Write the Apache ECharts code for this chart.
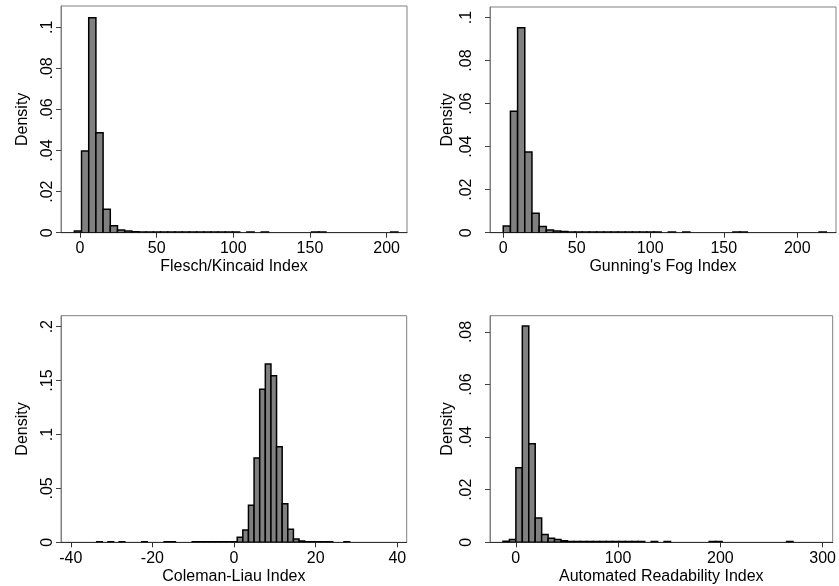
<!DOCTYPE html>
<html><head><meta charset="utf-8">
<script src="https://cdn.jsdelivr.net/npm/echarts@6/dist/echarts.min.js"></script>
<style>html,body{margin:0;padding:0;background:#fff}#c{width:839px;height:586px}</style>
</head><body><div id="c"></div>
<script>
// ---------- DATA ----------
const titles = ["Flesch/Kincaid Index", "Gunning's Fog Index", "Coleman-Liau Index", "Automated Readability Index"];

// histogram bins: first bin edge, bin width, and density of each of the 45 bins
const fkStart = -3.7, fkWidth = 4.69;
const fkDensity = [0.0008, 0.0398, 0.1047, 0.0487, 0.0114, 0.0034, 0.0013, 0.0008, 0.0005,
  0.0003, 0.0003, 0.0003, 0.0003, 0.0003, 0.0003, 0.0003, 0.0003, 0.0003, 0.0003, 0.0003, 0.0003, 0.0003, 0.0003,
  0, 0.0003, 0, 0.0003, 0, 0, 0, 0, 0, 0, 0.0003, 0.0003, 0, 0, 0, 0, 0, 0, 0, 0, 0, 0.0003];

const gfStart = 0.1, gfWidth = 4.88;
const gfDensity = [0.0031, 0.0565, 0.0952, 0.0375, 0.009, 0.0029, 0.0013, 0.0008, 0.0005,
  0.0003, 0.0003, 0.0003, 0.0003, 0.0003, 0.0003, 0.0003, 0.0003, 0.0003, 0.0003, 0.0003, 0.0003, 0.0003,
  0, 0.0003, 0, 0.0003, 0, 0, 0, 0, 0, 0, 0.0003, 0.0003, 0, 0, 0, 0, 0, 0, 0, 0, 0, 0, 0.0003];

const clStart = -33.65, clWidth = 1.377;
const clDensity = [0.0006, 0, 0.0006, 0, 0.0006, 0, 0, 0, 0.0006, 0, 0, 0, 0.0006, 0.0006, 0, 0, 0,
  0.0006, 0.0006, 0.0006, 0.0006, 0.0006, 0.0006, 0.0006, 0.0006,
  0.0046, 0.0114, 0.0343, 0.0782, 0.142, 0.1654, 0.1546, 0.0887, 0.0358, 0.0121, 0.0031, 0.0012,
  0.0006, 0.0006, 0.0006, 0.0006, 0.0006, 0, 0, 0.0006];

const arStart = -12.5, arWidth = 6.3;
const arDensity = [0.0004, 0.0011, 0.0284, 0.0823, 0.0375, 0.0092, 0.003, 0.0015, 0.0011, 0.0006,
  0.0003, 0.0003, 0.0003, 0.0003, 0.0003, 0.0003, 0.0003, 0.0003, 0.0003, 0.0003, 0.0003, 0.0003,
  0, 0.0003, 0, 0.0003, 0, 0, 0, 0, 0, 0, 0.0003, 0.0003, 0, 0, 0, 0, 0, 0, 0, 0, 0, 0, 0.0003];

// tick values
const fkXTicks = [0, 50, 100, 150, 200];
const gfXTicks = [0, 50, 100, 150, 200];
const clXTicks = [-40, -20, 0, 20, 40];
const arXTicks = [0, 100, 200, 300];
const fkYTicks = [0, 0.02, 0.04, 0.06, 0.08, 0.1];
const gfYTicks = [0, 0.02, 0.04, 0.06, 0.08, 0.1];
const clYTicks = [0, 0.05, 0.1, 0.15, 0.2];
const arYTicks = [0, 0.02, 0.04, 0.06, 0.08];

// ---------- LAYOUT ----------
const FONT = '"Liberation Sans", Arial, sans-serif';
const FS = 16;
const panels = [
  {start: fkStart, width: fkWidth, dens: fkDensity, xt: fkXTicks, yt: fkYTicks,
   left: 61, top: 6, w: 346, h: 226.7, xMin: -12.4, xMax: 213.3, yMax: 0.1104, lm: 5, ng: 30},
  {start: gfStart, width: gfWidth, dens: gfDensity, xt: gfXTicks, yt: gfYTicks,
   left: 490, top: 7, w: 346, h: 225.7, xMin: -8.9, xMax: 226.3, yMax: 0.1049, lm: 15.5, ng: 34.5},
  {start: clStart, width: clWidth, dens: clDensity, xt: clXTicks, yt: clYTicks,
   left: 61, top: 315.7, w: 345.7, h: 226.6, xMin: -42.4, xMax: 42.3, yMax: 0.2102, lm: 5, ng: 30},
  {start: arStart, width: arWidth, dens: arDensity, xt: arXTicks, yt: arYTicks,
   left: 490, top: 315.7, w: 346, h: 226.6, xMin: -25.2, xMax: 309.8, yMax: 0.0862, lm: 15.5, ng: 34.5}
];

function yFmt(v) {
  const r = +(+v).toFixed(4);
  if (r === 0) return '0';
  return String(r).replace(/^0\./, '.');
}

const grid = [], xAxis = [], yAxis = [], series = [];
panels.forEach((p, i) => {
  grid.push({left: p.left, top: p.top, width: p.w, height: p.h, show: true,
    borderColor: '#808080', borderWidth: 1, backgroundColor: '#fff', containLabel: false});
  xAxis.push({type: 'value', gridIndex: i, min: p.xMin, max: p.xMax,
    name: titles[i], nameLocation: 'middle', nameGap: 26, nameMoveOverlap: false,
    nameTextStyle: {fontFamily: FONT, fontSize: FS, color: '#000'},
    axisLine: {show: true, onZero: false, lineStyle: {color: '#303030', width: 1}},
    axisTick: {show: true, inside: false, length: 5, customValues: p.xt, lineStyle: {color: '#303030'}},
    axisLabel: {customValues: p.xt, fontFamily: FONT, fontSize: FS, color: '#000', margin: 8,
      formatter: v => String(+(+v).toFixed(4))},
    splitLine: {show: false}});
  yAxis.push({type: 'value', gridIndex: i, min: 0, max: p.yMax,
    name: 'Density', nameLocation: 'middle', nameGap: p.ng, nameRotate: 90, nameMoveOverlap: false,
    nameTextStyle: {fontFamily: FONT, fontSize: FS, color: '#000'},
    axisLine: {show: true, onZero: false, lineStyle: {color: '#808080', width: 1}},
    axisTick: {show: true, inside: false, length: 5, customValues: p.yt, lineStyle: {color: '#404040'}},
    axisLabel: {customValues: p.yt, rotate: 90, fontFamily: FONT, fontSize: FS, color: '#000',
      margin: p.lm, formatter: yFmt},
    splitLine: {show: false}});
  const data = [];
  p.dens.forEach((d, k) => {
    if (d > 0) data.push([p.start + k * p.width, p.start + (k + 1) * p.width, d]);
  });
  series.push({type: 'custom', xAxisIndex: i, yAxisIndex: i, data: data, clip: true,
    encode: {x: [0, 1], y: 2}, silent: true,
    renderItem: function (params, api) {
      const a = api.coord([api.value(0), api.value(2)]);
      const b = api.coord([api.value(1), 0]);
      return {type: 'rect',
        shape: {x: a[0], y: a[1], width: b[0] - a[0], height: b[1] - a[1]},
        style: {fill: '#808080', stroke: '#000', lineWidth: 1.5}};
    }});
});

const chart = echarts.init(document.getElementById('c'), null, {renderer: 'canvas'});
chart.setOption({backgroundColor: '#fff', animation: false, grid, xAxis, yAxis, series});
</script></body></html>
